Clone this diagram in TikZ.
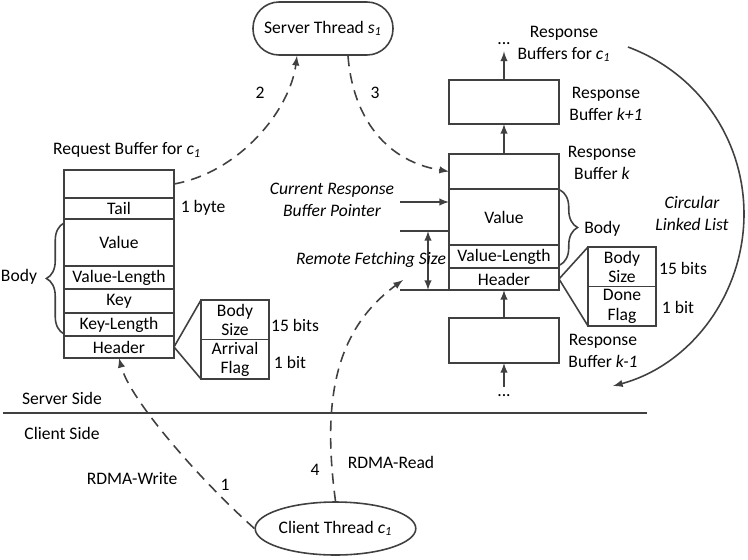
\documentclass[tikz,border=0pt]{standalone}
\usepackage{fontspec}
\setmainfont{Carlito}
\usepackage{tikz}
\usetikzlibrary{positioning, calc, shapes.geometric, decorations.pathreplacing}

\definecolor{lineGray}{RGB}{64,64,64}
\newcommand{\itsub}[2]{\textit{#1}\textsubscript{\textit{#2}}}

\begin{document}
\begin{tikzpicture}[
	x=0.02cm, y=-0.02cm,
	every node/.style={font=\fontsize{10}{12.5}\selectfont},
	txt/.style={align=center, inner sep=0pt},
	cell/.style={draw=lineGray, line width=0.9pt, minimum width=2.2cm, minimum height=0.46cm, inner sep=0pt, outer sep=0pt},
	flag/.style={draw=lineGray, line width=0.9pt, minimum width=1.36cm, minimum height=0.79cm, inner sep=0pt, outer sep=0pt, align=center, font=\fontsize{10}{11}\selectfont},
	thread/.style={draw=lineGray, line width=0.9pt, inner sep=0pt, minimum height=1.06cm},
	line/.style={lineGray, line width=0.9pt},
	arrow/.style={-latex, lineGray, line width=0.9pt},
	dArrow/.style={latex-latex, lineGray, line width=0.9pt},
	flow/.style={-latex, lineGray, line width=0.9pt, dash pattern=on 6pt off 4pt},
	brace/.style={lineGray, line width=0.9pt, decorate, decoration={brace, amplitude=10pt}}
	]
	
	\useasboundingbox (0,0) rectangle (748,559);
	
	% Request buffer
	\node[txt] (reqTitle) at (127,150) {Request Buffer for \itsub{c}{1}};
	\node[cell, minimum height=0.56cm] (reqTop) at (119,184) {};
	\node[cell, minimum height=0.42cm, below=0pt of reqTop] (reqTail) {Tail};
	\node[cell, minimum height=0.94cm, below=0pt of reqTail] (reqValue) {Value};
	\node[cell, below=0pt of reqValue] (reqValLen) {Value-Length};
	\node[cell, minimum height=0.48cm, below=0pt of reqValLen] (reqKey) {Key};
	\node[cell, below=0pt of reqKey] (reqKeyLen) {Key-Length};
	\node[cell, minimum height=0.44cm, below=0pt of reqKeyLen] (reqHeader) {Header};
	\node[txt] (tailSize) at (203,208) {1 byte};
	
	\draw[brace] ($(reqKeyLen.south west)+(0,-2)$) -- ($(reqValue.north west)+(0,4)$);
	\node[txt] (reqBody) at (19,277) {Body};
	
	\node[flag, anchor=north west] (reqSize) at (201,300) {Body\\Size};
	\node[flag, below=0pt of reqSize] (reqArrival) {Arrival\\Flag};
	\draw[line] (reqSize.north west) -- (reqHeader.east) -- (reqArrival.south west);
	\node[txt] (reqSizeBits) at (295,325) {15 bits};
	\node[txt] (reqArrivalBits) at (290,362) {1 bit};
	
	% Threads
	\node[thread, rounded corners=0.52cm, minimum width=2.8cm] (server) at (323,28.5) {Server Thread \itsub{s}{1}};
	\node[thread, ellipse, minimum width=3.02cm] (client) at (335.5,528.5) {Client Thread \itsub{c}{1}};
	
	% Response buffers
	\node[txt] (dotsTop) at (504,44) {...};
	\node[txt] (respTitle) at (564,44) {Response\\Buffers for \itsub{c}{1}};
	\node[cell, minimum height=0.88cm] (bufNext) at (504,102) {};
	\node[txt] (bufNextLbl) at (606,104) {Response\\Buffer \textit{k+1}};
	\node[cell, minimum height=0.7cm] (bufTop) at (504,171.5) {};
	\node[txt] (bufLbl) at (602,163) {Response\\Buffer \textit{k}};
	\node[cell, minimum height=1.12cm, below=0pt of bufTop] (bufValue) {Value};
	\node[cell, below=0pt of bufValue] (bufValLen) {Value-Length};
	\node[cell, minimum height=0.44cm, below=0pt of bufValLen] (bufHeader) {Header};
	\node[cell, minimum height=0.9cm] (bufPrev) at (504,340.5) {};
	\node[txt] (bufPrevLbl) at (603,351) {Response\\Buffer \textit{k-1}};
	\node[txt] (dotsBot) at (504,396) {...};
	
	\draw[arrow] (bufNext.north) -- ($(dotsTop.south)+(0,6)$);
	\draw[arrow] (bufTop.north) -- (bufNext.south);
	\draw[arrow] (bufPrev.north) -- (bufHeader.south);
	\draw[arrow] ($(dotsBot.north)+(0,-8)$) -- (bufPrev.south);
	
	\draw[brace] ($(bufValue.north east)+(1,1)$) -- ($(bufValLen.south east)+(1,-3)$);
	\node[txt, anchor=west] (bufBody) at (584,229) {Body};
	
	\node[flag, anchor=north west] (bufSize) at (588,247) {Body\\Size};
	\node[flag, below=0pt of bufSize] (bufDone) {Done\\Flag};
	\draw[line] (bufSize.north west) -- (bufHeader.east) -- (bufDone.south west);
	\node[txt] (bufSizeBits) at (683,268) {15 bits};
	\node[txt] (bufDoneBits) at (678,307) {1 bit};
	
	% Pointer and fetching size
	\coordinate (ptrStart) at (400,202);
	\coordinate (fetchTop) at (400,231);
	\coordinate (fetchBot) at (400,290);
	\node[txt, font=\fontsize{10}{12.5}\selectfont\itshape] (ptrLbl) at (332,200) {Current Response\\Buffer Pointer};
	\draw[arrow] (ptrStart) -- (ptrStart -| bufValue.west);
	\draw[line] (fetchTop) -- (fetchTop -| bufValue.west);
	\draw[line] (fetchBot) -- (bufHeader.south west);
	\draw[dArrow] ($(fetchTop)+(28,0)$) -- ($(fetchBot)+(28,0)$);
	\node[txt, font=\fontsize{10}{12.5}\selectfont\itshape] (fetchLbl) at (371,260) {Remote Fetching Size};
	
	% Circular list
	\coordinate (loopStart) at (628,47);
	\coordinate (loopEnd) at (613,386);
	\draw[arrow] (loopStart) .. controls (698,73) and (744,139) .. (744,214) .. controls (744,294) and (691,365) .. (loopEnd);
	\node[txt, font=\fontsize{10}{12.5}\selectfont\itshape] (loopLbl) at (692,213) {Circular\\Linked List};
	
	% Server / client sides
	\coordinate (sideL) at (3,413);
	\coordinate (sideR) at (647,413);
	\draw[line] (sideL) -- (sideR);
	\node[txt] (serverSide) at (62,398) {Server Side};
	\node[txt] (clientSide) at (62,433) {Client Side};
	
	% Steps
	\draw[flow] (client.west) .. controls (200,480) and (130,400) .. (reqHeader.south);
	\draw[flow] (reqTop.east) .. controls (240,172) and (290,110) .. ($(server.south)+(-26,0)$);
	\draw[flow] ($(server.south)+(25,0)$) .. controls (352,110) and (380,160) .. (bufTop.west);
	\draw[flow] (client.north) .. controls (322,400) and (335,330) .. ($(fetchBot)+(3,-10)$);
	\node[txt] (step1) at (225,485) {1};
	\node[txt] (step2) at (260,93) {2};
	\node[txt] (step3) at (375,93) {3};
	\node[txt] (step4) at (315,470) {4};
	\node[txt] (writeLbl) at (132,479) {RDMA-Write};
	\node[txt] (readLbl) at (391,462) {RDMA-Read};
\end{tikzpicture}
\end{document}
